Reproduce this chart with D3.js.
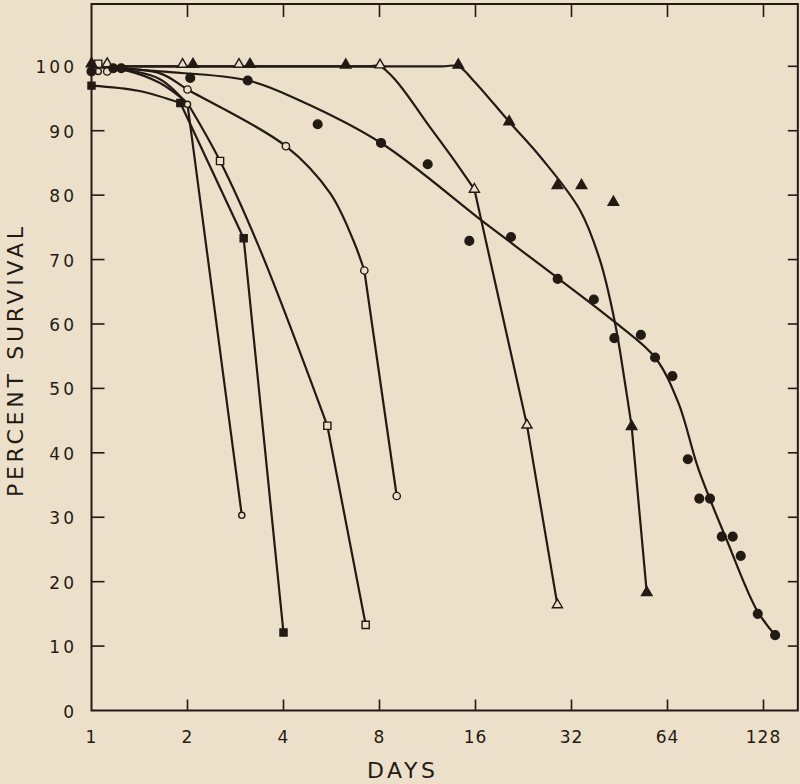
<!DOCTYPE html>
<html>
<head>
<meta charset="utf-8">
<script src="https://cdn.jsdelivr.net/npm/d3@7"></script>
<style>
  html, body { margin: 0; padding: 0; background: #ece0cb; }
  svg { display: block; }
  text { font-family: "DejaVu Sans", sans-serif; fill: #241a14; }
</style>
</head>
<body>
<svg id="chart" width="800" height="784"></svg>
<script>
// tick values
const xTicks = [1, 2, 4, 8, 16, 32, 64, 128];
const yTicks = [0, 10, 20, 30, 40, 50, 60, 70, 80, 90, 100];

// observed points [day, percent survival]
const filledCircles = [[1, 99.2], [1.17, 99.7], [1.24, 99.7], [2.04, 98.2], [3.09, 97.8], [5.12, 91], [8.09, 88.1],
  [11.33, 84.8], [15.3, 72.9], [20.67, 73.5], [28.96, 67], [37.6, 63.8], [43.6, 57.8], [52.8, 58.3], [58.5, 54.8],
  [66.3, 51.9], [74.1, 39], [80.5, 32.9], [87, 32.9], [94.7, 27], [102.5, 27], [108.6, 24], [122.8, 15], [139.2, 11.7]];
const openCircles = [[1.12, 99.2], [2, 96.4], [4.07, 87.6], [7.17, 68.3], [9.06, 33.3]];
const smallCircles = [[1.05, 99.2], [2, 94.1], [2.96, 30.3]];
const openSquares = [[1.05, 100.4], [2.53, 85.3], [5.49, 44.2], [7.24, 13.3]];
const filledSquares = [[1, 97], [1.9, 94.3], [3, 73.3], [4, 12.1]];
const openTriangles = [[1.12, 100.4], [1.93, 100.3], [2.9, 100.3], [8.03, 100.2], [15.87, 80.9], [23.2, 44.3], [28.9, 16.4]];
const filledTriangles = [[1, 100.4], [2.08, 100.3], [3.14, 100.3], [6.27, 100.2], [14.13, 100.2], [20.4, 91.4],
  [28.9, 81.5], [34.4, 81.5], [43.3, 78.9], [49.4, 44.1], [55.1, 18.3]];

// hand drawn curves; each piece is smooth, pieces meet at a bend
const curveFilledCircles = [
  [[1, 100], [1.64, 99.2], [3.1, 97.8], [4.5, 94.7], [8.09, 88.1], [17.1, 75.7], [25.5, 69.2], [44, 60.2],
   [58.5, 54.8], [69.2, 47.8], [80, 37.5], [98.1, 26.5], [121.9, 15.6], [139.2, 11.7]]];
const curveOpenCircles = [
  [[1, 100], [1.64, 98.9], [2, 96.4], [4.07, 87.6], [5.6, 80.3], [6.62, 73.0], [7.17, 68.3]],
  [[7.17, 68.3], [9.06, 33.3]]];
const curveSmallCircles = [
  [[1, 100], [1.3, 99.4], [1.64, 98.0], [2, 94.1]],
  [[2, 94.1], [2.96, 30.3]]];
const curveOpenSquares = [
  [[1, 100], [1.3, 99.3], [1.64, 97.4], [2, 94.3]],
  [[2, 94.3], [2.53, 85.3], [3.38, 71.5], [5.49, 44.2]],
  [[5.49, 44.2], [7.24, 13.3]]];
const curveFilledSquares = [
  [[1, 97], [1.4, 96.2], [1.9, 94.3]],
  [[1.9, 94.3], [3, 73.3]],
  [[3, 73.3], [4, 12.1]]];
const curveOpenTriangles = [
  [[1, 100], [8.03, 100]],
  [[7.5, 100], [8.03, 100], [9, 97.8], [11.5, 90.6], [13.5, 85.9], [15.87, 80.9]],
  [[15.87, 80.9], [23.2, 44.3]],
  [[23.2, 44.3], [28.9, 16.4]]];
const curveFilledTriangles = [
  [[1, 100], [12.5, 100], [14.13, 100], [15.75, 97.8], [20.4, 91.4], [25.5, 86], [34, 77.7], [39.3, 69.9],
   [43.8, 60.2], [47.1, 50.8], [49.4, 44.1]],
  [[49.4, 44.1], [55.1, 18.3]]];

const ink = "#241a14";
const paper = "#ece0cb";

const svg = d3.select("#chart");

const x = d3.scaleLog().base(2).domain([1, 128]).range([91.5, 763.5]);
const y = d3.scaleLinear().domain([0, 100]).range([710.5, 66.3]);

const frameLeft = x(1), frameRight = x(164), frameBottom = y(0), frameTop = 4;

// frame
svg.append("rect")
  .attr("x", frameLeft).attr("y", frameTop)
  .attr("width", frameRight - frameLeft).attr("height", frameBottom - frameTop)
  .attr("fill", "none").attr("stroke", ink).attr("stroke-width", 2);

// ticks, all pointing inward
const xInner = xTicks.filter(d => d > 1);
svg.append("g").selectAll("line").data(xInner).join("line")
  .attr("x1", d => x(d)).attr("x2", d => x(d))
  .attr("y1", frameBottom).attr("y2", frameBottom - 11)
  .attr("stroke", ink).attr("stroke-width", 1.6);
svg.append("g").selectAll("line").data(xInner).join("line")
  .attr("x1", d => x(d)).attr("x2", d => x(d))
  .attr("y1", frameTop).attr("y2", frameTop + 13)
  .attr("stroke", ink).attr("stroke-width", 1.6);
const yInner = yTicks.filter(d => d > 0);
svg.append("g").selectAll("line").data(yInner).join("line")
  .attr("x1", frameLeft).attr("x2", frameLeft + 13)
  .attr("y1", d => y(d)).attr("y2", d => y(d))
  .attr("stroke", ink).attr("stroke-width", 1.6);
svg.append("g").selectAll("line").data(yInner).join("line")
  .attr("x1", frameRight).attr("x2", frameRight - 10)
  .attr("y1", d => y(d)).attr("y2", d => y(d))
  .attr("stroke", ink).attr("stroke-width", 1.6);

// tick labels
svg.append("g").selectAll("text").data(xTicks).join("text")
  .attr("x", d => x(d)).attr("y", 737)
  .attr("text-anchor", "middle").attr("dominant-baseline", "central")
  .style("font-size", "17px").style("letter-spacing", "1px")
  .text(d => d);
svg.append("g").selectAll("text").data(yTicks).join("text")
  .attr("x", 77).attr("y", d => y(d) + 1)
  .attr("text-anchor", "end").attr("dominant-baseline", "central")
  .style("font-size", "17px").style("letter-spacing", "3px")
  .text(d => d);

// axis titles
svg.append("text")
  .attr("x", 401).attr("y", 770)
  .attr("text-anchor", "middle").attr("dominant-baseline", "central")
  .style("font-size", "22px")
  .attr("textLength", 68).attr("lengthAdjust", "spacing")
  .text("DAYS");
svg.append("text")
  .attr("transform", "translate(15,362) rotate(-90)")
  .attr("text-anchor", "middle").attr("dominant-baseline", "central")
  .style("font-size", "22px")
  .attr("textLength", 270).attr("lengthAdjust", "spacing")
  .text("PERCENT SURVIVAL");

// curves
const line = d3.line()
  .x(d => x(d[0])).y(d => y(d[1]))
  .curve(d3.curveCatmullRom.alpha(0.5));

const curves = [curveFilledCircles, curveOpenCircles, curveSmallCircles, curveOpenSquares,
  curveFilledSquares, curveOpenTriangles, curveFilledTriangles];
svg.append("g").selectAll("path").data(curves.flat()).join("path")
  .attr("d", line)
  .attr("fill", "none").attr("stroke", ink)
  .attr("stroke-width", 2.2).attr("stroke-linecap", "round");

// markers
function drawMarkers(data, shape, size, filled) {
  const sym = d3.symbol().type(shape).size(size);
  svg.append("g").selectAll("path").data(data).join("path")
    .attr("transform", d => "translate(" + x(d[0]) + "," + y(d[1]) + ")")
    .attr("d", sym)
    .attr("fill", filled ? ink : paper)
    .attr("stroke", ink).attr("stroke-width", 1.4);
}

drawMarkers(openSquares, d3.symbolSquare, 52, false);
drawMarkers(filledSquares, d3.symbolSquare, 50, true);
drawMarkers(openCircles, d3.symbolCircle, 42, false);
drawMarkers(smallCircles, d3.symbolCircle, 30, false);
drawMarkers(openTriangles, d3.symbolTriangle, 44, false);
drawMarkers(filledTriangles, d3.symbolTriangle, 48, true);
drawMarkers(filledCircles, d3.symbolCircle, 60, true);
</script>
</body>
</html>
